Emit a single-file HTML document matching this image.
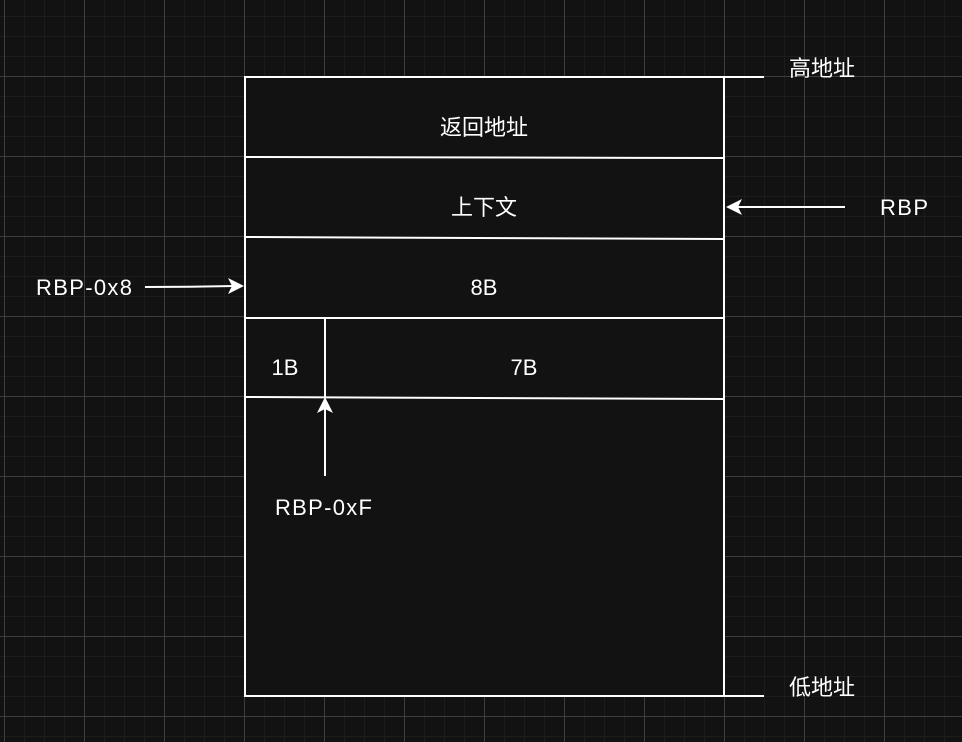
<!DOCTYPE html>
<html><head><meta charset="utf-8"><style>
body{margin:0;background:#121212;}
svg{display:block}
text{font-family:"Liberation Sans","Noto Sans CJK SC",sans-serif;font-size:22px;fill:#fff;}
</style></head><body>
<svg width="962" height="742" viewBox="0 0 962 742" xmlns="http://www.w3.org/2000/svg">
<defs>
<pattern id="minor" width="20" height="20" patternUnits="userSpaceOnUse" x="4" y="-4">
<path d="M0 0H20M0 0V20" stroke="#202020" stroke-width="1.5" fill="none"/>
</pattern>
<pattern id="major" width="80" height="80" patternUnits="userSpaceOnUse" x="4" y="-4">
<path d="M0 0.5H80M0.5 0V80" stroke="#3e3e3e" stroke-width="1" fill="none"/>
</pattern>
</defs>
<rect width="962" height="742" fill="#121212"/>
<rect width="962" height="742" fill="url(#minor)"/>
<rect width="962" height="742" fill="url(#major)"/>
<rect x="245" y="77" width="479" height="619" fill="#121212" stroke="#fff" stroke-width="2"/>
<g stroke="#fff" stroke-width="2" fill="none">
<path d="M724 77H764M724 696H764"/>
<path d="M245 157L724 158"/>
<path d="M245 237L724 239"/>
<path d="M245 318H724"/>
<path d="M245 397L724 399"/>
<path d="M325 318V397"/>
<path d="M845 207H734"/>
<path d="M145 287Q190 287 234 286"/>
<path d="M325 476V408"/>
</g>
<g fill="#fff">
<path d="M726 207L742 199L738 207L742 215Z"/>
<path d="M244 286L228 278L232 286L228 294Z"/>
<path d="M325 397L317 413L325 409L333 413Z"/>
</g>
<g style="font-size:24px">
<text x="484" y="135" text-anchor="middle">返回地址</text>
<text x="484" y="215" text-anchor="middle">上下文</text>
<text x="789" y="76">高地址</text>
<text x="789" y="695">低地址</text>
</g>
<text x="484" y="295" text-anchor="middle">8B</text>
<text x="285" y="375" text-anchor="middle">1B</text>
<text x="524" y="375" text-anchor="middle">7B</text>
<text x="880" y="215" textLength="48">RBP</text>
<text x="36" y="295" textLength="96">RBP-0x8</text>
<text x="275" y="515" textLength="97">RBP-0xF</text>
</svg>
</body></html>
